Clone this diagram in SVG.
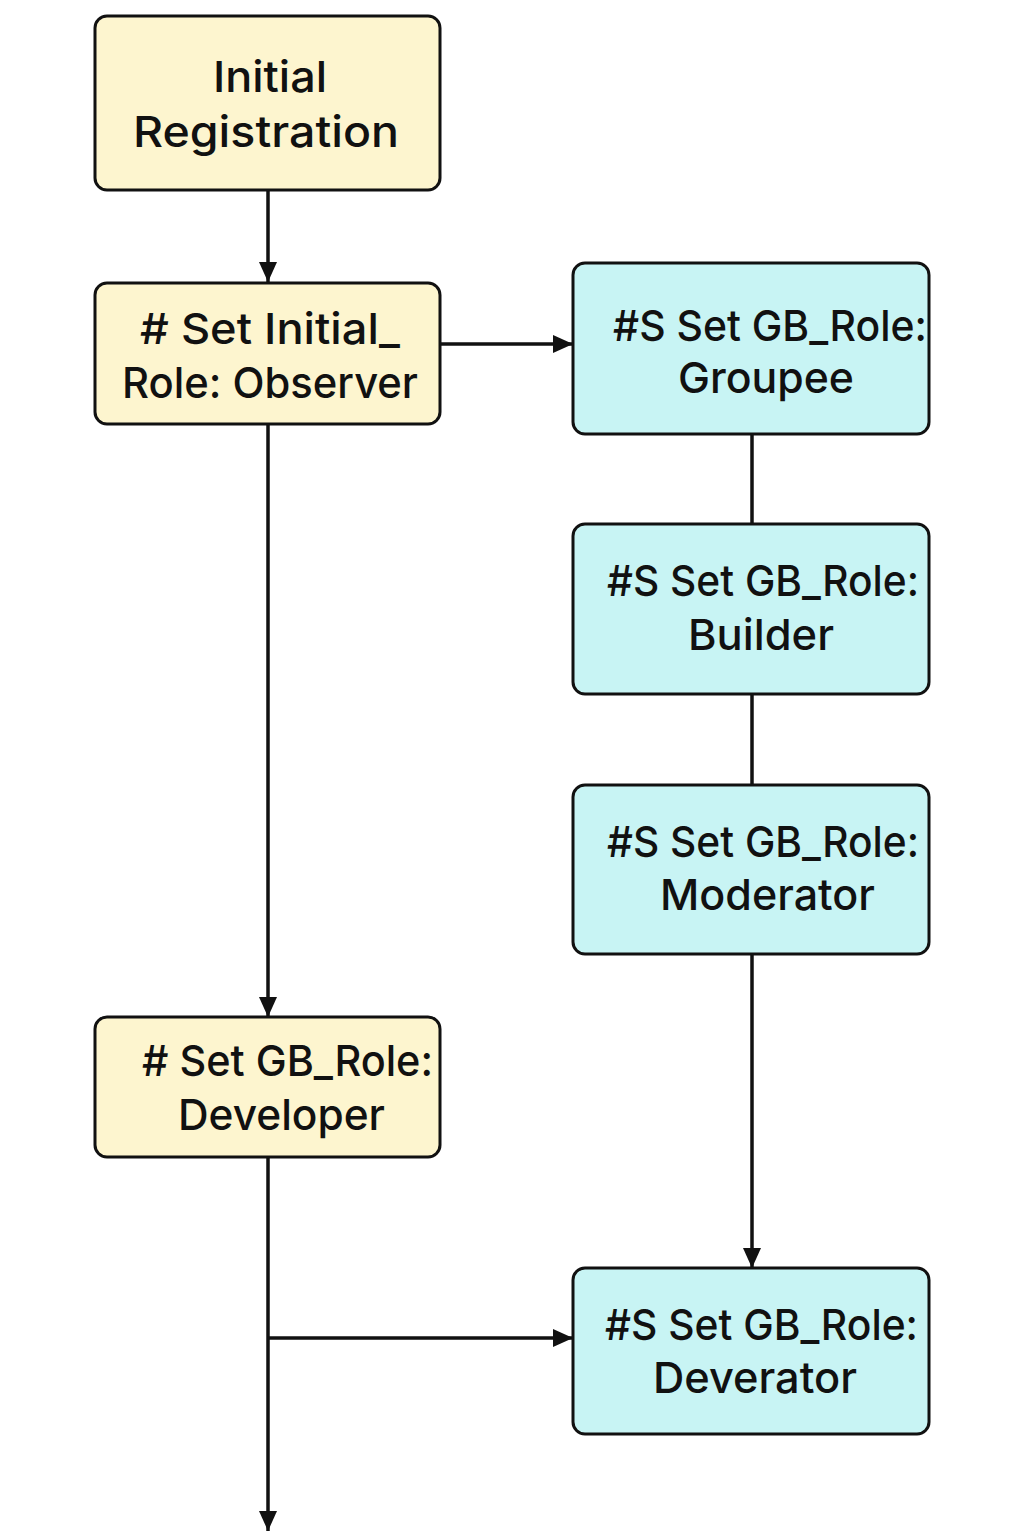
<svg xmlns="http://www.w3.org/2000/svg" width="1024" height="1536" viewBox="0 0 1024 1536">
<defs>
<style>
.y{fill:#FDF5CF;stroke:#111;stroke-width:3}
.c{fill:#C8F4F4;stroke:#111;stroke-width:3}
.t{font-family:Inter,"Noto Sans","DejaVu Sans",sans-serif;font-size:43px;font-weight:500;fill:#111}
.e{fill:none;stroke:#111;stroke-width:3.5}
</style>
<marker id="ah" viewBox="0 0 20 20" refX="20" refY="10" markerWidth="20" markerHeight="20" markerUnits="userSpaceOnUse" orient="auto">
<path d="M0,1 L20,10 L0,19 Z" fill="#111"/>
</marker>
</defs>
<rect width="1024" height="1536" fill="#fff"/>
<g id="connectors">
<line class="e" x1="268" y1="190" x2="268" y2="282" marker-end="url(#ah)"/>
<line class="e" x1="440" y1="344" x2="573" y2="344" marker-end="url(#ah)"/>
<line class="e" x1="752" y1="434" x2="752" y2="524"/>
<line class="e" x1="752" y1="694" x2="752" y2="785"/>
<line class="e" x1="752" y1="954" x2="752" y2="1268" marker-end="url(#ah)"/>
<line class="e" x1="268" y1="424" x2="268" y2="1017" marker-end="url(#ah)"/>
<line class="e" x1="268" y1="1157" x2="268" y2="1531" marker-end="url(#ah)"/>
<line class="e" x1="268" y1="1338" x2="573" y2="1338" marker-end="url(#ah)"/>
</g>
<g id="n1">
<rect class="y" x="95" y="16" width="345" height="174" rx="12"/>
<text class="t" x="213" y="92" textLength="114" lengthAdjust="spacingAndGlyphs">Initial</text>
<text class="t" x="133" y="147" textLength="266" lengthAdjust="spacingAndGlyphs">Registration</text>
</g>
<g id="n2">
<rect class="y" x="95" y="283" width="345" height="141" rx="12"/>
<text class="t" x="140" y="344" textLength="260" lengthAdjust="spacingAndGlyphs"># Set Initial_</text>
<text class="t" x="122" y="398" textLength="296" lengthAdjust="spacingAndGlyphs">Role: Observer</text>
</g>
<g id="n3">
<rect class="c" x="573" y="263" width="356" height="171" rx="12"/>
<text class="t" x="613" y="341" textLength="314" lengthAdjust="spacingAndGlyphs">#S Set GB_Role:</text>
<text class="t" x="678" y="393" textLength="176" lengthAdjust="spacingAndGlyphs">Groupee</text>
</g>
<g id="n4">
<rect class="c" x="573" y="524" width="356" height="170" rx="12"/>
<text class="t" x="607" y="596" textLength="312" lengthAdjust="spacingAndGlyphs">#S Set GB_Role:</text>
<text class="t" x="688" y="650" textLength="146" lengthAdjust="spacingAndGlyphs">Builder</text>
</g>
<g id="n5">
<rect class="c" x="573" y="785" width="356" height="169" rx="12"/>
<text class="t" x="607" y="857" textLength="312" lengthAdjust="spacingAndGlyphs">#S Set GB_Role:</text>
<text class="t" x="660" y="910" textLength="215" lengthAdjust="spacingAndGlyphs">Moderator</text>
</g>
<g id="n6">
<rect class="y" x="95" y="1017" width="345" height="140" rx="12"/>
<text class="t" x="142" y="1076" textLength="291" lengthAdjust="spacingAndGlyphs"># Set GB_Role:</text>
<text class="t" x="178" y="1130" textLength="207" lengthAdjust="spacingAndGlyphs">Developer</text>
</g>
<g id="n7">
<rect class="c" x="573" y="1268" width="356" height="166" rx="12"/>
<text class="t" x="605" y="1340" textLength="313" lengthAdjust="spacingAndGlyphs">#S Set GB_Role:</text>
<text class="t" x="653" y="1393" textLength="204" lengthAdjust="spacingAndGlyphs">Deverator</text>
</g>
</svg>
